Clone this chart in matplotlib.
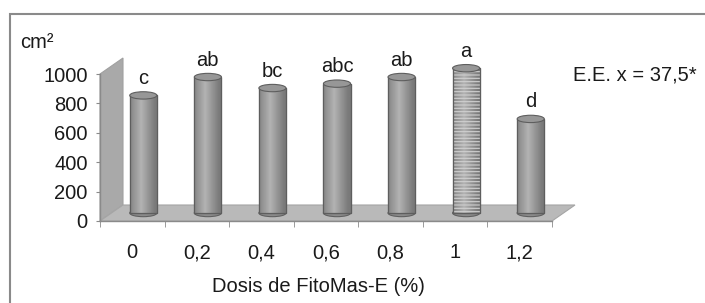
import numpy as np
import matplotlib
matplotlib.use("Agg")
import matplotlib.pyplot as plt
from matplotlib.patches import Ellipse, Polygon, Rectangle
from matplotlib.transforms import offset_copy

dosis = ['0', '0,2', '0,4', '0,6', '0,8', '1', '1,2']
area = [800, 925, 850, 880, 925, 985, 640]
letras = ['c', 'ab', 'bc', 'abc', 'ab', 'a', 'd']

plt.rcParams['font.family'] = ['Liberation Sans', 'DejaVu Sans']
plt.rcParams['hatch.linewidth'] = 0.8
fs = 14.5

fig = plt.figure(figsize=(7.05, 3.03), dpi=100)
ax = fig.add_axes([100/705, 82/303, 452/705, 147/303])
ax.set_xlim(-0.5, 6.5)
ax.set_ylim(0, 1000)

# profundidad del efecto 3D
px, py = 23/64.6, 16/0.147

piso = Polygon([(-0.5, 0), (6.5, 0), (6.5 + px, py), (-0.5 + px, py)],
               closed=True, facecolor='#b9b9b9', edgecolor='#a5a5a5', lw=0.8,
               zorder=2, clip_on=False)
pared = Polygon([(-0.5, 0), (-0.5, 1000), (-0.5 + px, 1000 + py), (-0.5 + px, py)],
                closed=True, facecolor='#a9a9a9', edgecolor='#a0a0a0', lw=0.8,
                zorder=1, clip_on=False)
ax.add_patch(pared)
ax.add_patch(piso)

# barras cilindricas, desplazadas a media profundidad
trans = offset_copy(ax.transData, fig=fig, x=11, y=8, units='dots')
ancho = 0.42
grad = np.clip(np.abs(np.linspace(-1, 1, 60) + 0.2), 0, 1)
grad = (0.70 - 0.22 * grad)[None, :]

for i, (v, l) in enumerate(zip(area, letras)):
    base = Ellipse((i, 0), ancho, 50, transform=trans, facecolor='#8a8a8a',
                   edgecolor='#606060', lw=0.8, zorder=3, clip_on=False)
    ax.add_patch(base)
    cuerpo = Rectangle((i - ancho/2, 0), ancho, v, transform=trans,
                       facecolor='#999999', edgecolor='#5e5e5e', lw=0.8,
                       zorder=4, clip_on=False)
    ax.add_patch(cuerpo)
    im = ax.imshow(grad, cmap='gray', vmin=0, vmax=1, aspect='auto',
                   extent=(i - ancho/2, i + ancho/2, 0, v), zorder=4.5)
    im.set_transform(trans)
    im.set_clip_path(cuerpo)
    if dosis[i] == '1':
        ax.add_patch(Rectangle((i - ancho/2, 0), ancho, v, transform=trans,
                               facecolor='none', edgecolor='#d0d0d0',
                               hatch='-----', lw=0, zorder=4.6, clip_on=False))
    ax.add_patch(Rectangle((i - ancho/2, 0), ancho, v, transform=trans,
                           facecolor='none', edgecolor='#5e5e5e', lw=0.9,
                           zorder=4.7, clip_on=False))
    tapa = Ellipse((i, v), ancho, 50, transform=trans, facecolor='#979797',
                   edgecolor='#5e5e5e', lw=0.8, zorder=5, clip_on=False)
    ax.add_patch(tapa)
    ax.annotate(l, (i, v), xycoords=trans, xytext=(0, 17),
                textcoords='offset pixels', ha='center', va='center',
                fontsize=fs, color='#1a1a1a', zorder=6)

ax.set_xlim(-0.5, 6.5)
ax.set_ylim(0, 1000)

for s in ['top', 'right']:
    ax.spines[s].set_visible(False)
for s in ['left', 'bottom']:
    ax.spines[s].set_color('#8a8a8a')
    ax.spines[s].set_linewidth(1.0)
    ax.spines[s].set_zorder(2.5)

ax.set_yticks(range(0, 1001, 200))
ax.tick_params(axis='y', direction='out', length=3, color='#8a8a8a',
               pad=6, labelsize=fs, labelcolor='#1a1a1a')
ax.set_xticks(range(len(dosis)))
ax.set_xticklabels(dosis)
ax.set_xticks(np.arange(-0.5, 7, 1), minor=True)
ax.tick_params(axis='x', which='major', length=0, pad=16, labelsize=fs,
               labelcolor='#1a1a1a')
ax.tick_params(axis='x', which='minor', direction='out', length=4,
               color='#8a8a8a')
ax.patch.set_visible(False)

fig.text(318/705, 1 - 287/303, 'Dosis de FitoMas-E (%)', ha='center',
         va='center', fontsize=fs, color='#1a1a1a')
fig.text(20/705, 1 - 43/303, 'cm²', ha='left', va='center', fontsize=fs,
         color='#1a1a1a')
fig.text(573/705, 1 - 75/303, 'E.E. x = 37,5*', ha='left', va='center',
         fontsize=fs, color='#1a1a1a')

fig.patches.append(Rectangle((10/705, -0.1), 1.2, (303 - 14)/303 + 0.1,
                             transform=fig.transFigure, fill=False,
                             edgecolor='#8a8a8a', lw=1.5))

fig.savefig('out.png', dpi=100)
